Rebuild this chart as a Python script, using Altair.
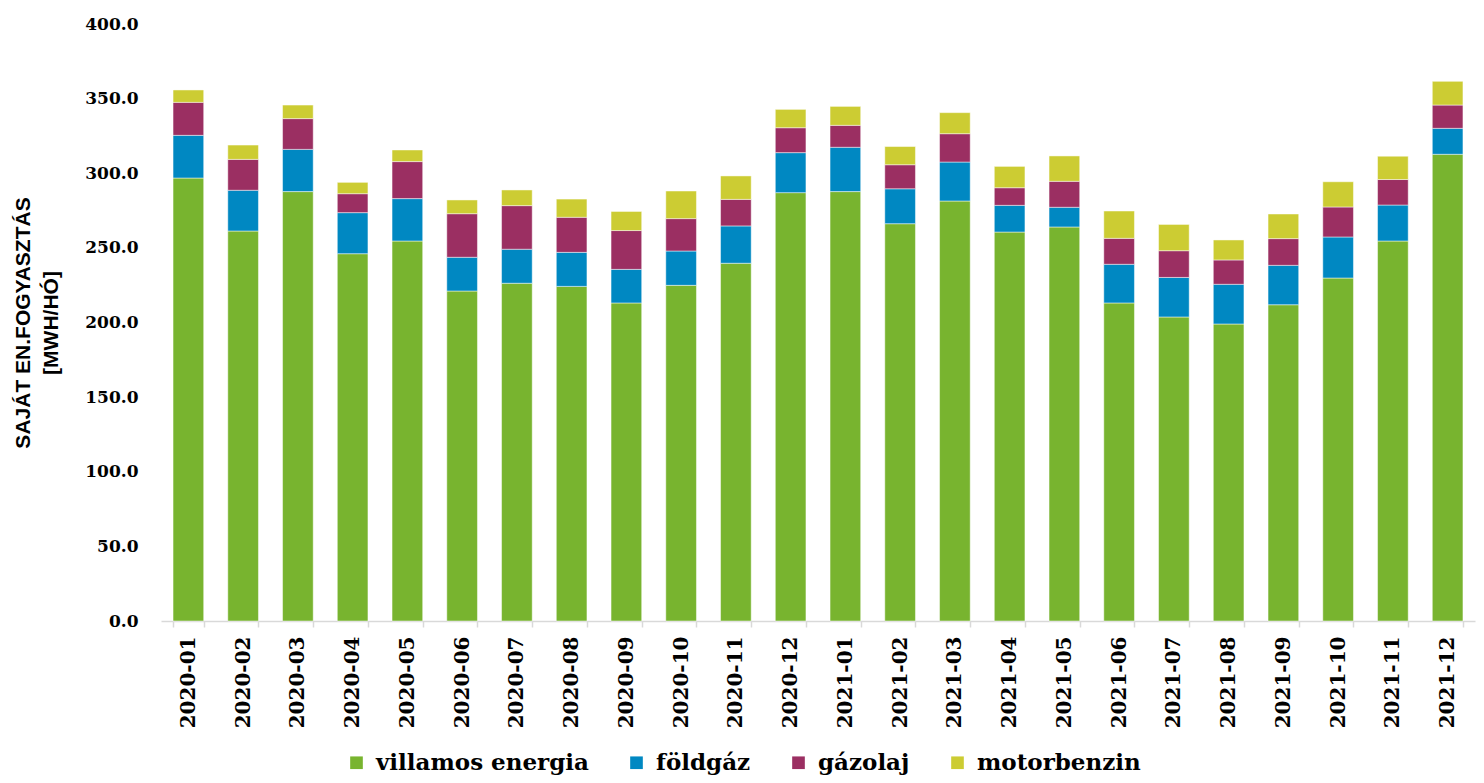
import altair as alt
import pandas as pd

months = ["2020-01", "2020-02", "2020-03", "2020-04", "2020-05", "2020-06",
          "2020-07", "2020-08", "2020-09", "2020-10", "2020-11", "2020-12",
          "2021-01", "2021-02", "2021-03", "2021-04", "2021-05", "2021-06",
          "2021-07", "2021-08", "2021-09", "2021-10", "2021-11", "2021-12"]
villamos = [296.8, 261.3, 287.7, 246.1, 254.6, 221.1, 226.3, 224.2, 213.1, 224.9, 239.7, 287.0,
            287.7, 266.2, 281.4, 260.6, 264.0, 213.1, 203.7, 199.0, 211.9, 229.8, 254.6, 312.7]
foldgaz = [28.6, 27.3, 28.3, 27.5, 28.4, 22.6, 22.8, 22.8, 22.5, 23.0, 25.0, 26.8,
           29.7, 23.4, 26.1, 17.9, 13.2, 25.9, 26.5, 26.6, 26.4, 27.5, 24.1, 17.4]
gazolaj = [22.1, 20.7, 20.6, 12.7, 24.8, 29.2, 29.2, 23.5, 26.0, 21.7, 17.8, 16.7,
           14.7, 16.1, 19.0, 11.8, 17.4, 17.4, 17.9, 16.3, 17.9, 20.1, 17.1, 15.6]
motorbenzin = [8.3, 9.6, 9.1, 7.6, 7.8, 9.2, 10.5, 12.2, 12.8, 18.5, 15.7, 12.3,
               12.7, 12.2, 14.1, 14.3, 17.0, 18.3, 17.6, 13.4, 16.5, 16.9, 15.6, 15.9]

series_names = ["villamos energia", "földgáz", "gázolaj", "motorbenzin"]
series_values = [villamos, foldgaz, gazolaj, motorbenzin]
series_colors = ["#78B42F", "#0088C2", "#9B2F62", "#CCCC33"]
y_ticks = [0, 50, 100, 150, 200, 250, 300, 350, 400]

rows = []
for si, (name, vals) in enumerate(zip(series_names, series_values)):
    for m, v in zip(months, vals):
        rows.append({"month": m, "series": name, "value": v, "order": si})
df = pd.DataFrame(rows)

chart = alt.Chart(df).mark_bar(
    stroke="white", strokeWidth=0.8, strokeOpacity=0.6
).encode(
    x=alt.X("month:N", sort=months, title=None,
            scale=alt.Scale(paddingInner=0.44, paddingOuter=0.22),
            axis=alt.Axis(labelAngle=-90, labelFont="DejaVu Serif", labelFontWeight="bold",
                          labelFontSize=20, labelColor="#000000", labelPadding=9,
                          domainColor="#d9d9d9", domainWidth=1.5, tickColor="#d9d9d9",
                          tickWidth=1.5, tickSize=6, tickBand="extent", grid=False)),
    y=alt.Y("value:Q", stack="zero",
            scale=alt.Scale(domain=[0, 400], nice=False),
            title=["SAJÁT EN.FOGYASZTÁS", "[MWH/HÓ]"],
            axis=alt.Axis(values=y_ticks, format=".1f", domain=False, ticks=False, grid=False,
                          labelFont="DejaVu Serif", labelFontWeight="bold", labelFontSize=17,
                          labelColor="#000000", labelPadding=23,
                          titleFont="Liberation Sans", titleFontWeight="bold", titleFontSize=21,
                          titleColor="#000000", titleLineHeight=28, titleAngle=-90,
                          titleAlign="center", titleBaseline="bottom",
                          titleX=-128, titleY=298.5)),
    color=alt.Color("series:N", sort=series_names,
                    scale=alt.Scale(domain=series_names, range=series_colors),
                    legend=alt.Legend(title=None, orient="none", direction="horizontal",
                                      legendX=184, legendY=727,
                                      symbolType="square", symbolSize=160,
                                      symbolStrokeWidth=0, symbolOpacity=1,
                                      labelFont="DejaVu Serif", labelFontWeight="bold",
                                      labelFontSize=23, labelColor="#000000",
                                      labelOffset=8, columnPadding=36, labelLimit=400)),
    order=alt.Order("order:Q", sort="ascending"),
).properties(
    width=1314, height=597,
    autosize=alt.AutoSizeParams(type="none"),
    padding={"left": 153, "top": 16, "right": 1, "bottom": 154},
).configure_view(stroke=None)

chart.save("out.html", embed_options={"renderer": "svg", "actions": False})
